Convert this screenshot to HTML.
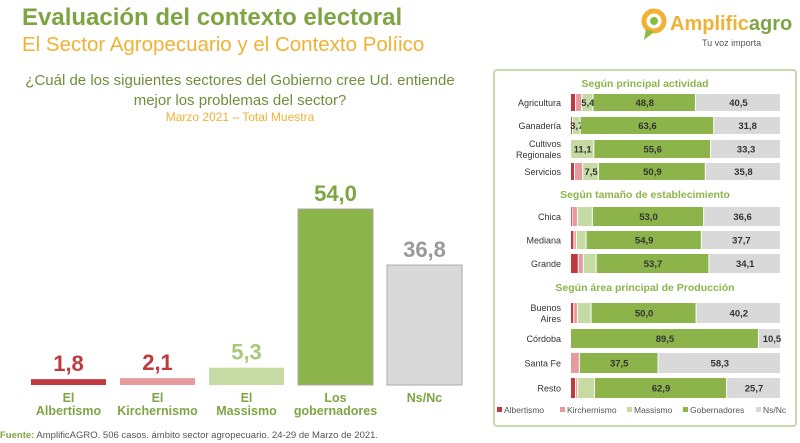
<!DOCTYPE html>
<html><head><meta charset="utf-8"><style>
body{margin:0;width:800px;height:443px;background:#fff;font-family:"Liberation Sans",sans-serif;overflow:hidden;position:relative}
.a{position:absolute;white-space:nowrap}
</style></head><body>
<div class="a" style="left:22px;top:4px;font-size:24px;font-weight:bold;color:#7ea543">Evaluación del contexto electoral</div>
<div class="a" style="left:22px;top:33px;font-size:20.5px;color:#f2b134">El Sector Agropecuario y el Contexto Políico</div>
<div class="a" style="left:20px;top:71px;width:440px;text-align:center;font-size:15px;line-height:20px;color:#6f8f3a;white-space:normal">¿Cuál de los siguientes sectores del Gobierno cree Ud. entiende mejor los problemas del sector?</div>
<div class="a" style="left:20px;top:110px;width:440px;text-align:center;font-size:12px;color:#f2b134">Marzo 2021 – Total Muestra</div>
<div class="a" style="left:640px;top:7px">
<svg width="30" height="34" style="position:absolute;left:0;top:0"><circle cx="14" cy="14" r="10" fill="none" stroke="#f2b134" stroke-width="5"/><path d="M6 22 L4 33 L14 25Z" fill="#8bbd3c"/><circle cx="14" cy="14" r="4" fill="#8bbd3c"/></svg>
<div class="a" style="left:30px;top:6px;font-size:20px;font-weight:bold;color:#f2b134">Amplific<span style="color:#7ea543">agro</span></div>
<div class="a" style="left:62px;top:31px;font-size:9px;color:#555">Tu voz importa</div>
</div>
<svg id="main" class="a" style="left:0;top:0" width="480" height="430"></svg>
<div class="a" style="left:0;top:430px;font-size:9.5px;color:#555"><b style="color:#7ea543">Fuente:</b> AmplificAGRO. 506 casos. ámbito sector agropecuario. 24-29 de Marzo de 2021.</div>
<div class="a" style="left:493px;top:69px;width:300px;height:354px;border:2px solid #c5dca6;border-radius:4px"></div>
<svg id="side" class="a" style="left:0;top:0" width="800" height="443"></svg>
<script>
const cats=["El|Albertismo","El|Kirchernismo","El|Massismo","Los|gobernadores","Ns/Nc"];
const vals=[1.8,2.1,5.3,54.0,36.8];
const colors=["#c0393f","#e79a9e","#c6dba3","#8db44a","#d9d9d9"];
const valColors=["#c0393f","#c0393f","#a8c97a","#7ea543","#999"];
const NS="http://www.w3.org/2000/svg";
function mk(p,t,a){const e=document.createElementNS(NS,t);for(const k in a)e.setAttribute(k,a[k]);p.appendChild(e);return e;}
const m=document.getElementById('main');
const base=385,sc=3.26;
const xb=i=>31+i*89, yv=v=>base-v*sc;
vals.forEach((v,i)=>{
 const r=mk(m,'rect',{x:xb(i),y:yv(v),width:75,height:v*sc,fill:colors[i],stroke:i>=3?"#aaa":"none","stroke-width":i>=3?1:0});
 
 
 const t=mk(m,'text',{x:xb(i)+37.5,y:yv(v)-8,"text-anchor":"middle","font-size":22,"font-weight":"bold",fill:valColors[i]});
 t.textContent=v.toFixed(1).replace('.',',');
 
 
 cats[i].split('|').forEach((s,j)=>{const c=mk(m,'text',{x:xb(i)+37.5,y:base+17+j*13,"text-anchor":"middle","font-size":12.5,"font-weight":"bold",fill:"#7ea543"});c.textContent=s;
 
 });
});
const rows=["Agricultura","Ganadería","Cultivos|Regionales","Servicios","Chica","Mediana","Grande","Buenos|Aires","Córdoba","Santa Fe","Resto"];
const alb=[2.4,0.9,0,1.9,0.7,1.6,3.7,1.5,0,0,2.4];
const kir=[2.9,0,0,3.9,2.6,1.2,2.4,1.8,0,4.2,1.0];
const mas=[5.4,3.7,11.1,7.5,7.1,4.6,6.1,6.5,0,0,8.0];
const gob=[48.8,63.6,55.6,50.9,53.0,54.9,53.7,50.0,89.5,37.5,62.9];
const nsn=[40.5,31.8,33.3,35.8,36.6,37.7,34.1,40.2,10.5,58.3,25.7];
const massLabels=["5,4","3,7","11,1","7,5","","","","","","",""];
const rowY=[94,117,140,163,207,231,254,303,329,353,378];
const rowH=[17,17,18,17,19,18,19,20,19,20,20];
const s=document.getElementById('side');
const x0=571,W=210,xs=v=>v/100*W;
[["Según principal actividad",87],["Según tamaño de establecimiento",198],["Según área principal de Producción",291]].forEach(h=>{
 const t=mk(s,'text',{x:645,y:h[1],"text-anchor":"middle","font-size":10.5,"font-weight":"bold",fill:"#8db44a"});t.textContent=h[0];
 
 });
rows.forEach((r,i)=>{
 const series=[alb[i],kir[i],mas[i],gob[i],nsn[i]];let x=x0;
 series.forEach((v,k)=>{if(v>0){const e=mk(s,'rect',{x:x,y:rowY[i],width:Math.max(xs(v)-1,0.8),height:rowH[i],fill:colors[k]});
 
 
 let lab=k==2?massLabels[i]:(k>=3?v.toFixed(1).replace('.',','):"");
 if(lab){const t=mk(s,'text',{x:k==4&&i==8?x+xs(v)/2+2:x+xs(v)/2,y:rowY[i]+rowH[i]/2+3.5,"text-anchor":"middle","font-size":9.5,"font-weight":"bold",fill:"#333"});t.textContent=lab;
 
 }}
 x+=xs(v);});
 const parts=r.split('|');
 parts.forEach((p,j)=>{const t=mk(s,'text',{x:561,y:rowY[i]+rowH[i]/2+3.5+(parts.length>1?(j-0.5)*11:0),"text-anchor":"end","font-size":9,fill:"#333"});t.textContent=p;
 
 });
});
const legs=["Albertismo","Kirchernismo","Massismo","Gobernadores","Ns/Nc"];const lx=[497,560,627,683,756];
legs.forEach((l,i)=>{const r=mk(s,'rect',{x:lx[i],y:407,width:5,height:5,fill:colors[i]});
 
 
 const t=mk(s,'text',{x:lx[i]+7,y:413,"font-size":8.5,fill:"#555"});t.textContent=l;
 
 });
</script>
</body></html>
